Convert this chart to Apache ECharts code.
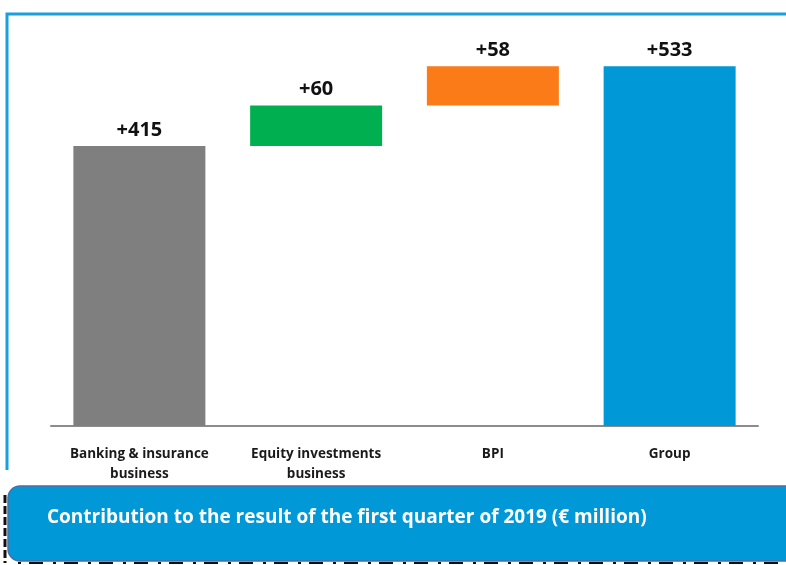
<!DOCTYPE html>
<html>
<head>
<meta charset="utf-8">
<script src="https://cdn.jsdelivr.net/npm/echarts@6/dist/echarts.min.js"></script>
<style>
  html, body { margin: 0; padding: 0; background: #ffffff; }
  #chart { width: 786px; height: 565px; }
</style>
</head>
<body>
<div id="chart"></div>
<script>
// Contribution bridge: segment values in € million
const categories = ['Banking & insurance\nbusiness', 'Equity investments\nbusiness', 'BPI', 'Group'];
const values = [415, 60, 58, 533];
const barColors = ['#7f7f7f', '#00b050', '#fa7b17', '#0098d6'];
const isTotal = [false, false, false, true];
const titleText = 'Contribution to the result of the first quarter of 2019 (€ million)';

// Invisible offsets so that each partial bar starts where the previous ended
const offsets = [];
let running = 0;
values.forEach((v, i) => {
  if (isTotal[i]) { offsets.push(0); }
  else { offsets.push(running); running += v; }
});

const font = '"Open Sans", "Noto Sans", sans-serif';

const chart = echarts.init(document.getElementById('chart'), null, { renderer: 'canvas' });
chart.setOption({
  animation: false,
  backgroundColor: '#ffffff',
  grid: { left: 51, right: 28, top: 21, bottom: 139 },
  xAxis: {
    type: 'category',
    data: categories,
    axisLine: { lineStyle: { color: '#8c8c8c', width: 2 } },
    axisTick: { show: false },
    axisLabel: {
      color: '#1a1a1a', fontFamily: font, fontWeight: 'bold', fontSize: 13.5,
      lineHeight: 20, margin: 18, interval: 0
    }
  },
  yAxis: {
    type: 'value', min: 0, max: 600,
    show: false, splitLine: { show: false }
  },
  series: [
    {
      type: 'bar', stack: 'w', barWidth: 132,
      itemStyle: { color: 'transparent' },
      emphasis: { disabled: true },
      data: offsets
    },
    {
      type: 'bar', stack: 'w', barWidth: 132,
      data: values.map((v, i) => ({ value: v, itemStyle: { color: barColors[i] } })),
      label: {
        show: true, position: 'top', distance: 6,
        formatter: p => '+' + p.value,
        color: '#111111', fontFamily: font, fontWeight: 'bold', fontSize: 20
      }
    }
  ],
  graphic: [
    // frame around the plot
    { type: 'polyline', silent: true, z: 0,
      shape: { points: [[7, 470], [7, 14], [790, 14]] },
      style: { stroke: '#17a0dc', lineWidth: 3, fill: null } },
    // dashed edge below the caption box
    { type: 'line', silent: true,
      shape: { x1: 5, y1: 495, x2: 5, y2: 563 },
      style: { stroke: '#111111', lineWidth: 3, lineDash: [8, 3] } },
    { type: 'line', silent: true,
      shape: { x1: 18, y1: 563, x2: 786, y2: 563 },
      style: { stroke: '#111111', lineWidth: 2, lineDash: [3, 8, 14, 10] } },
    // caption box
    { type: 'rect', silent: true, z: 10,
      shape: { x: 8, y: 486, width: 800, height: 75, r: [12, 0, 0, 12] },
      style: { fill: '#0098d6', stroke: '#4b6fa8', lineWidth: 1.5 } },
    { type: 'text', silent: true, z: 11,
      left: 47, top: 508,
      style: { text: titleText, fill: '#ffffff', font: 'bold 19px ' + font } }
  ]
});
</script>
</body>
</html>
